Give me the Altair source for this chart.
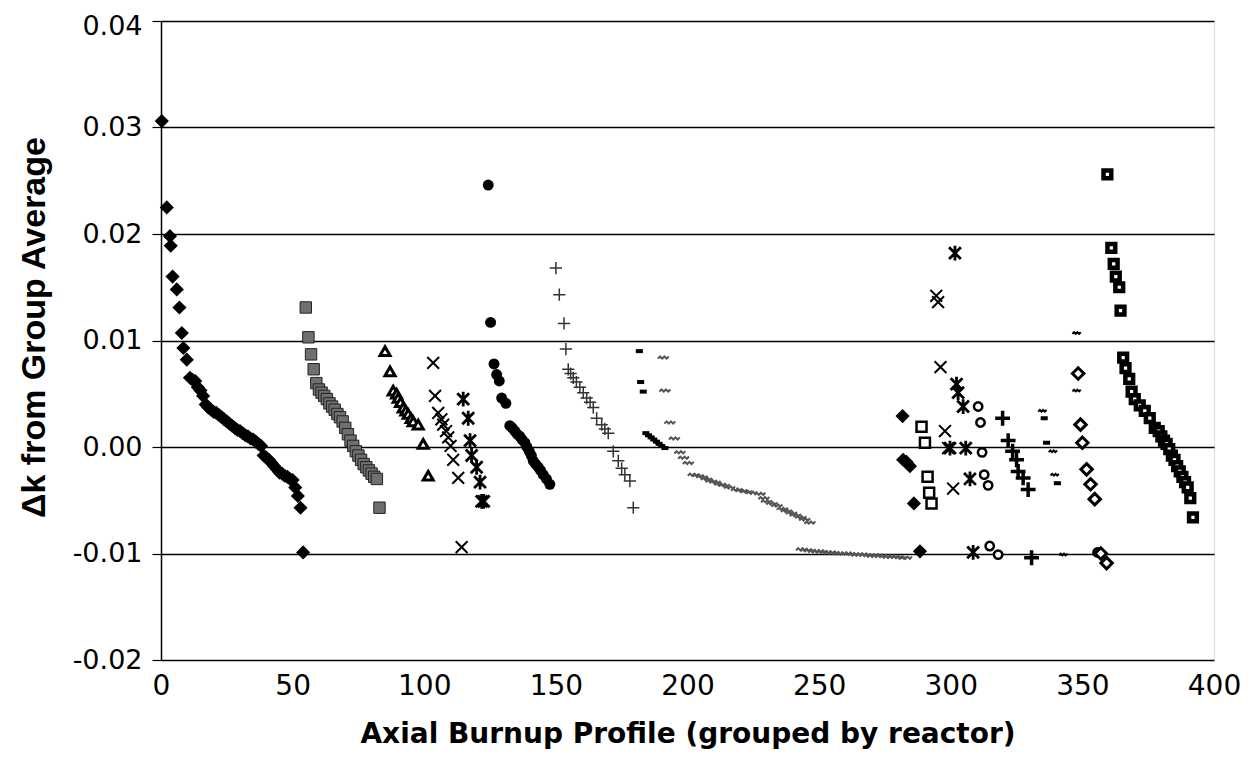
import altair as alt
import pandas as pd

# ---------------- data ----------------
fdia_x = [0.3, 2.2, 3.4, 3.7, 4.4, 6.0, 7.0, 7.9, 8.5, 9.8,
          11, 12, 13, 14, 15, 16, 17, 18, 19, 20, 21, 22, 23, 24, 25, 26, 27, 28, 29, 30,
          31, 32, 33, 34, 35, 36, 37, 38, 39, 40, 41, 42, 43, 44, 45, 46, 47, 48, 49, 50,
          51, 52, 53, 54,
          281.7, 281.9, 283.2, 284.5, 286.0, 288.3]
fdia_y = [0.0306, 0.0225, 0.0198, 0.0189, 0.0160, 0.0148, 0.0131, 0.0107, 0.0093, 0.0082,
          0.0065, 0.0063, 0.0062, 0.0056, 0.0053, 0.0048, 0.0040, 0.0037, 0.0035, 0.0033,
          0.0032, 0.0030, 0.0028, 0.0026, 0.0024, 0.0022, 0.0020, 0.0018, 0.0016, 0.0015,
          0.0013, 0.0011, 0.0010, 0.0008, 0.0007, 0.0005, 0.0003, 0.0001, -0.0008, -0.0010,
          -0.0012, -0.0015, -0.0018, -0.0021, -0.0024, -0.0025, -0.0027, -0.0028, -0.0030, -0.0031,
          -0.0038, -0.0046, -0.0057, -0.0099,
          0.0029, -0.0012, -0.0014, -0.0018, -0.0053, -0.0098]

gsq_x = [55, 56, 57, 58, 59, 60, 61, 62, 63, 64, 65, 66, 67, 68, 69, 70, 71, 72, 73, 74,
         75, 76, 77, 78, 79, 80, 81, 82, 83]
gsq_y = [0.0131, 0.0103, 0.0087, 0.0073, 0.0060, 0.0054, 0.0051, 0.0048, 0.0045, 0.0041,
         0.0038, 0.0035, 0.0031, 0.0028, 0.0024, 0.0018, 0.0012, 0.0006, 0.0001, -0.0004,
         -0.0008, -0.0012, -0.0016, -0.0019, -0.0022, -0.0025, -0.0028, -0.0030, -0.0057]

tri_x = [85.1, 87.0, 88.2, 89.5, 90.1, 91.0, 92.0, 93.0, 93.9, 95.0, 95.8, 97.7, 99.6, 101.5]
tri_y = [0.0090, 0.0071, 0.0053, 0.0050, 0.0046, 0.0042, 0.0037, 0.0034, 0.0031, 0.0027,
         0.0024, 0.0021, 0.0003, -0.0027]

xm_x = [103.4, 104.1, 105.3, 106.5, 107.2, 108.3, 109.1, 110.0, 111.0, 112.9, 114.2,
        294.5, 295.2, 296.1, 297.8, 299.0, 300.9]
xm_y = [0.0079, 0.0048, 0.0032, 0.0026, 0.0021, 0.0015, 0.0009, 0.0001, -0.0012, -0.0029, -0.0094,
        0.0142, 0.0136, 0.0075, 0.0015, -0.0001, -0.0039]

ast_x = [114.8, 116.7, 117.4, 118.0, 119.9, 121.2, 121.8, 122.6,
         299.7, 301.6, 302.2, 302.8, 304.7, 305.7, 307.3, 308.5]
ast_y = [0.0045, 0.0027, 0.0006, -0.0008, -0.0019, -0.0033, -0.0051, -0.0051,
         -0.0001, 0.0182, 0.0059, 0.0051, 0.0038, -0.0001, -0.0030, -0.0099]

fcir_x = [124.3, 125.2, 126.5, 127.5, 128.5, 129.4, 131.0, 132.5, 133.4, 134.4, 135.3, 136.3,
          137.2, 138.2, 139.0, 139.9, 140.7, 141.4, 142.3, 143.3, 144.2, 145.2, 146.4, 147.7,
          355.8]
fcir_y = [0.0246, 0.0117, 0.0078, 0.0068, 0.0062, 0.0046, 0.0041, 0.0020, 0.0018, 0.0015,
          0.0012, 0.0010, 0.0007, 0.0004, 0.0000, -0.0004, -0.0008, -0.0013, -0.0016, -0.0019,
          -0.0022, -0.0026, -0.0030, -0.0035, -0.0099]

tplus_x = [150.0, 151.3, 153.1, 153.8, 154.7, 155.6, 156.6, 157.8, 159.1, 160.4, 161.7, 163.0,
           164.2, 165.5, 167.4, 168.6, 169.9, 171.8, 173.7, 175.0, 176.2, 178.1, 179.4]
tplus_y = [0.0168, 0.0143, 0.0116, 0.0092, 0.0073, 0.0069, 0.0065, 0.0061, 0.0056, 0.0051,
           0.0046, 0.0042, 0.0037, 0.0027, 0.0021, 0.0017, 0.0013, -0.0004, -0.0013, -0.0020,
           -0.0026, -0.0032, -0.0057]

dash_x = [181.7, 182.2, 183.2, 184.2, 185.2, 186.2, 187.2, 188.2, 189.2, 190.2, 191.4,
          335.5, 336.4, 340.5]
dash_y = [0.0090, 0.0061, 0.0052, 0.0013, 0.0011, 0.0009, 0.0007, 0.0005, 0.0003, 0.0001, -0.0001,
          0.0027, 0.0004, -0.0034]

gwave_x = [190.8, 191.4, 193.3, 195.0, 197.1, 198.5, 200.3, 202.2, 204.0, 205.5, 207.2, 209.0,
           210.5, 212.3, 214.0, 216.0, 218.6, 220.5, 222.5, 224.5, 227.5, 229.0, 230.0, 232.0,
           234.0, 236.0, 237.6, 239.5, 241.0, 243.0, 244.5, 246.5,
           243.3, 245.0, 246.5, 248.0, 249.5, 251.0, 252.5, 254.0, 255.5, 257.0, 258.5, 260.0,
           261.5, 263.0, 264.5, 266.0, 267.5, 269.0, 270.5, 272.0, 273.5, 275.0, 276.5, 278.0,
           279.5, 281.0, 283.2]
gwave_y = [0.0084, 0.0053, 0.0023, 0.0008, -0.0005, -0.0010, -0.0015, -0.0026, -0.0027, -0.0028,
           -0.0030, -0.0032, -0.0033, -0.0035, -0.0036, -0.0038, -0.0040, -0.0041, -0.0042, -0.0043,
           -0.0044, -0.0048, -0.0051, -0.0053, -0.0055, -0.0058, -0.0060, -0.0062, -0.0064, -0.0066,
           -0.0068, -0.0071,
           -0.0096, -0.0097, -0.0097, -0.0098, -0.0098, -0.0098, -0.0099, -0.0099, -0.0099, -0.0100,
           -0.0100, -0.0100, -0.0100, -0.0101, -0.0101, -0.0101, -0.0101, -0.0102, -0.0102, -0.0102,
           -0.0102, -0.0103, -0.0103, -0.0103, -0.0103, -0.0104, -0.0104]

osq_x = [288.9, 290.2, 291.2, 291.8, 292.7]
osq_y = [0.0019, 0.0004, -0.0028, -0.0043, -0.0053]

ocir_x = [310.4, 311.3, 311.9, 312.7, 314.2, 314.8, 318.0]
ocir_y = [0.0038, 0.0023, -0.0005, -0.0026, -0.0036, -0.0093, -0.0101]

kplus_x = [319.7, 321.8, 323.5, 325.0, 325.6, 327.5, 329.4, 330.7]
kplus_y = [0.0027, 0.0006, -0.0004, -0.0012, -0.0023, -0.0029, -0.0040, -0.0104]

bwave_x = [334.8, 338.8, 339.5, 342.7, 347.8, 347.8]
bwave_y = [0.0034, -0.0004, -0.0026, -0.0101, 0.0107, 0.0053]

odia_x = [348.4, 349.3, 350.0, 351.6, 353.1, 354.7, 357.0, 359.2]
odia_y = [0.0069, 0.0021, 0.0004, -0.0021, -0.0035, -0.0049, -0.0100, -0.0109]

dsq_x = [359.5, 361.0, 361.9, 362.7, 364.0, 364.5, 365.5, 366.4, 367.8, 368.7, 369.9, 371.8,
         373.7, 375.6, 377.5, 379, 380, 381, 382, 383, 384, 385, 386, 387, 388, 389, 390, 391, 392]
dsq_y = [0.0256, 0.0187, 0.0172, 0.0160, 0.0150, 0.0128, 0.0084, 0.0074, 0.0064, 0.0052, 0.0045,
         0.0039, 0.0034, 0.0027, 0.0018, 0.0015, 0.0010, 0.0006, 0.0003, -0.0002, -0.0008, -0.0012,
         -0.0018, -0.0023, -0.0028, -0.0033, -0.0038, -0.0048, -0.0066]

x_ticks = [0, 50, 100, 150, 200, 250, 300, 350, 400]
y_ticks = [-0.02, -0.01, 0.0, 0.01, 0.02, 0.03, 0.04]

# ---------------- marker paths ----------------
P_X = "M-1,-1L1,1M-1,1L1,-1"
P_AST = "M-1,-1L1,1M-1,1L1,-1M0,-1.25L0,1.25"
P_PLUS = "M-1,0L1,0M0,-1L0,1"
P_DASH = "M-1,0L1,0"
P_WAVE = "M-1,0.2L-0.6,-0.2L-0.2,0.2L0.2,-0.2L0.6,0.2L1,-0.2"

LFONT = "DejaVu Sans"

X = alt.X("x:Q",
          scale=alt.Scale(domain=[0, 400], nice=False, zero=False),
          axis=alt.Axis(values=x_ticks, grid=False, ticks=False, domain=False,
                        labelFont=LFONT, labelFontSize=28, labelColor="black",
                        labelPadding=12, labelFlush=False,
                        title="Axial Burnup Profile (grouped by reactor)",
                        titleFont="DejaVu Sans", titleFontSize=28, titleFontWeight="bold",
                        titleColor="black", titlePadding=20))
Y = alt.Y("y:Q",
          scale=alt.Scale(domain=[-0.02, 0.04], nice=False, zero=False),
          axis=alt.Axis(values=y_ticks, grid=True, gridColor="black",
                        labelExpr="datum.value < 0 ? '-' + format(-datum.value, '.2f') : format(datum.value, '.2f')",
                        labelOffset={"condition": {"test": "datum.value > 0.035", "value": 5},
                                     "value": 0},
                        gridWidth=1.6, domain=True, domainColor="black", domainWidth=1.5,
                        ticks=True, tickSize=9, tickColor="black", tickWidth=1.2,
                        labelFont=LFONT, labelFontSize=27, labelColor="black",
                        labelPadding=10, labelFlush=False,
                        title="Δk from Group Average",
                        titleFont="Liberation Sans Narrow, Arial Narrow, Liberation Sans",
                        titleFontSize=34, titleFontWeight="bold", titleColor="black",
                        titleX=-110, titleY=306, titleAngle=-90))


def layer(xs, ys, **style):
    df = pd.DataFrame({"x": xs, "y": ys})
    return alt.Chart(df).mark_point(opacity=1, **style).encode(x=X, y=Y)


layers = [
    layer(gwave_x, gwave_y, shape=P_WAVE, filled=False, stroke="#555555", strokeWidth=2, size=120),
    layer(gsq_x, gsq_y, shape="square", filled=True, fill="#6f6f6f", stroke="#222222",
          strokeWidth=1, size=130),
    layer(tplus_x, tplus_y, shape=P_PLUS, filled=False, stroke="#333333", strokeWidth=1.5, size=150),
    layer(fdia_x, fdia_y, shape="diamond", filled=True, color="black", size=200),
    layer(tri_x, tri_y, shape="triangle-up", filled=False, fill="white", stroke="black",
          strokeWidth=3, size=100),
    layer(xm_x, xm_y, shape=P_X, filled=False, stroke="black", strokeWidth=2, size=140),
    layer(ast_x, ast_y, shape=P_AST, filled=False, stroke="black", strokeWidth=2.8, size=140),
    layer(fcir_x, fcir_y, shape="circle", filled=True, color="black", size=120),
    layer(dash_x, dash_y, shape=P_DASH, filled=False, stroke="black", strokeWidth=4, size=50),
    layer(osq_x, osq_y, shape="square", filled=False, fill="white", stroke="black",
          strokeWidth=2.5, size=100),
    layer(ocir_x, ocir_y, shape="circle", filled=False, fill="white", stroke="black",
          strokeWidth=2.5, size=70),
    layer(kplus_x, kplus_y, shape=P_PLUS, filled=False, stroke="black", strokeWidth=3.5, size=220),
    layer(bwave_x, bwave_y, shape=P_WAVE, filled=False, stroke="black", strokeWidth=2, size=70),
    layer(odia_x, odia_y, shape="diamond", filled=False, fill="white", stroke="black",
          strokeWidth=3, size=130),
    layer(dsq_x, dsq_y, shape="square", filled=False, fill="white", stroke="black",
          strokeWidth=4.5, size=60),
]

chart = alt.layer(*layers).properties(
    width=1053, height=639,
    autosize=alt.AutoSizeParams(type="none"),
    padding={"left": 153, "top": 13, "right": 32, "bottom": 115},
).configure_view(stroke="black", strokeWidth=1.5).configure(background="white")

chart.save("out.html", embed_options={"renderer": "svg", "actions": False})
